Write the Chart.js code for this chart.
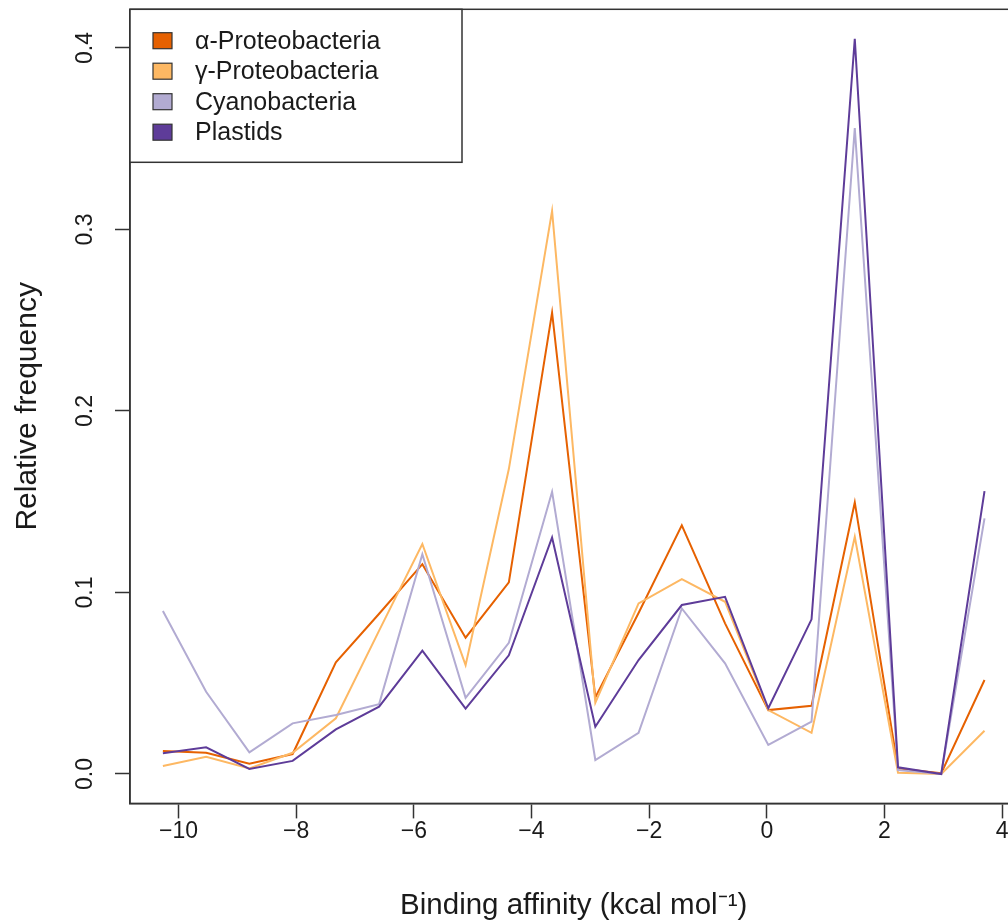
<!DOCTYPE html>
<html>
<head>
<meta charset="utf-8">
<title>Binding affinity distribution</title>
<script src="https://cdn.jsdelivr.net/npm/chart.js@4.4.1/dist/chart.umd.min.js"></script>
<style>
  html, body { margin: 0; padding: 0; background: #fff; overflow: hidden; }
  /* plot box runs past the right edge of the window, like the reference */
  #wrap { width: 1030px; height: 921px; }
</style>
</head>
<body>
<div id="wrap"><canvas id="chart"></canvas></div>
<script>
// bin centres, kcal/mol
const binCentres = [-10.265, -9.53, -8.795, -8.06, -7.325, -6.59, -5.855, -5.12, -4.385, -3.65,
                    -2.915, -2.18, -1.445, -0.71, 0.025, 0.76, 1.495, 2.23, 2.965, 3.70];

// relative frequencies
const alphaProteo = [0.0127, 0.0117, 0.0057, 0.0110, 0.0615, 0.0883, 0.1156, 0.0751, 0.1056, 0.2542,
                     0.0422, 0.0887, 0.1370, 0.0830, 0.0352, 0.0376, 0.1496, 0.0031, 0.0004, 0.0518];
const gammaProteo = [0.0044, 0.0095, 0.0031, 0.0117, 0.0307, 0.0790, 0.1267, 0.0600, 0.1680, 0.3102,
                     0.0393, 0.0940, 0.1074, 0.0949, 0.0352, 0.0227, 0.1307, 0.0007, 0.0000, 0.0238];
const cyanobacteria = [0.0898, 0.0453, 0.0119, 0.0279, 0.0325, 0.0385, 0.1211, 0.0420, 0.0723, 0.1555,
                       0.0077, 0.0227, 0.0912, 0.0610, 0.0160, 0.0288, 0.3559, 0.0022, 0.0000, 0.1408];
const plastids = [0.0114, 0.0147, 0.0028, 0.0072, 0.0246, 0.0371, 0.0679, 0.0360, 0.0654, 0.1303,
                  0.0260, 0.0628, 0.0931, 0.0976, 0.0362, 0.0852, 0.4051, 0.0037, 0.0000, 0.1558];

const seriesNames = ['\u03b1-Proteobacteria', '\u03b3-Proteobacteria', 'Cyanobacteria', 'Plastids'];
const seriesValues = [alphaProteo, gammaProteo, cyanobacteria, plastids];
const seriesColors = ['#e66101', '#fdb863', '#b2abd2', '#5e3c99'];

const xTicks = [-10, -8, -6, -4, -2, 0, 2, 4];
const yTicks = [0, 0.1, 0.2, 0.3, 0.4];

const FONT = '"Liberation Sans", Arial, Helvetica, sans-serif';
const INK = '#1a1a1a';
const AXIS = '#333';

/**
 * Ramka wokół obszaru wykresu (jak box() w R)
 */
const plotFrame = {
  id: 'plotFrame',
  afterDatasetsDraw(chart) {
    const { ctx, chartArea } = chart;
    ctx.save();
    ctx.strokeStyle = AXIS;
    ctx.lineWidth = 1.5;
    ctx.strokeRect(chartArea.left, chartArea.top, chartArea.right - chartArea.left, chartArea.bottom - chartArea.top);
    ctx.restore();
  }
};

/**
 * Legenda w ramce, w lewym górnym rogu
 */
const boxedLegend = {
  id: 'boxedLegend',
  afterDraw(chart) {
    const { ctx, chartArea } = chart;
    const x0 = chartArea.left;
    const y0 = chartArea.top;
    ctx.save();
    ctx.fillStyle = '#fff';
    ctx.fillRect(x0, y0, 332, 153);
    ctx.strokeStyle = AXIS;
    ctx.lineWidth = 1.5;
    ctx.strokeRect(x0, y0, 332, 153);
    ctx.font = '25px ' + FONT;
    ctx.textBaseline = 'middle';
    chart.data.datasets.forEach((ds, i) => {
      const cy = y0 + 31.4 + i * 30.5;
      ctx.fillStyle = ds.borderColor;
      ctx.fillRect(x0 + 23, cy - 8, 19, 16);
      ctx.strokeStyle = AXIS;
      ctx.lineWidth = 1.2;
      ctx.strokeRect(x0 + 23, cy - 8, 19, 16);
      ctx.fillStyle = INK;
      ctx.fillText(ds.label, x0 + 65, cy + 1);
    });
    ctx.restore();
  }
};

const datasets = seriesNames.map((name, s) => ({
  label: name,
  data: binCentres.map((x, i) => ({ x: x, y: seriesValues[s][i] })),
  borderColor: seriesColors[s],
  backgroundColor: seriesColors[s],
  borderWidth: 2,
  pointRadius: 0,
  tension: 0,
  fill: false,
  order: seriesNames.length - s   // plastids drawn last, on top
}));

const tickMarks = { drawOnChartArea: false, drawTicks: true, tickLength: 15, tickColor: AXIS, tickWidth: 1.5 };

new Chart(document.getElementById('chart').getContext('2d'), {
  type: 'line',
  data: { datasets: datasets },
  options: {
    responsive: true,
    maintainAspectRatio: false,
    animation: false,
    events: [],
    devicePixelRatio: 1,
    layout: { autoPadding: false, padding: { left: 0, top: 9.3, right: 12.6, bottom: 0 } },
    plugins: {
      legend: { display: false },
      tooltip: { enabled: false }
    },
    scales: {
      x: {
        type: 'linear',
        min: -10.824,
        max: 4.259,
        afterFit(scale) {
          scale.height = 117.6;
          scale.paddingLeft = 0;
          scale.paddingRight = 0;
        },
        afterBuildTicks(scale) { scale.ticks = xTicks.map(v => ({ value: v })); },
        grid: tickMarks,
        border: { display: true, color: AXIS, width: 1.5 },
        ticks: {
          autoSkip: false,
          maxRotation: 0,
          padding: -1,
          color: INK,
          font: { family: FONT, size: 23 },
          callback: v => (v < 0 ? '\u2212' + Math.abs(v) : String(v))
        },
        title: {
          display: true,
          text: 'Binding affinity (kcal mol\u207b\u00b9)',
          color: INK,
          font: { family: FONT, size: 29.5 },
          padding: { top: 0, bottom: -3 }
        }
      },
      y: {
        type: 'linear',
        min: -0.0162,
        max: 0.4213,
        afterFit(scale) {
          // fixed plot box: no extra room for the rotated end labels
          scale.width = 130;
          scale.paddingTop = 0;
          scale.paddingBottom = 0;
        },
        afterBuildTicks(scale) { scale.ticks = yTicks.map(v => ({ value: v })); },
        grid: tickMarks,
        border: { display: true, color: AXIS, width: 1.5 },
        ticks: {
          minRotation: 90,
          maxRotation: 90,
          crossAlign: 'center',
          padding: 13,
          color: INK,
          font: { family: FONT, size: 23 },
          callback: v => v.toFixed(1)
        },
        title: {
          display: true,
          text: 'Relative frequency',
          color: INK,
          font: { family: FONT, size: 30 },
          padding: { top: 10, bottom: 0 }
        }
      }
    }
  },
  plugins: [plotFrame, boxedLegend]
});
</script>
</body>
</html>
